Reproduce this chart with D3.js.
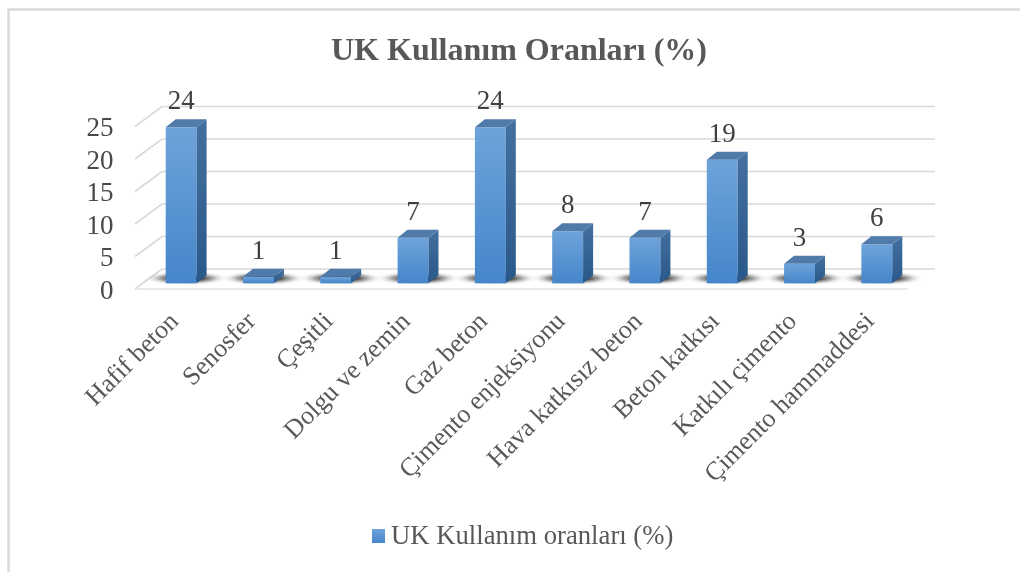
<!DOCTYPE html>
<html><head><meta charset="utf-8">
<script src="https://cdn.jsdelivr.net/npm/d3@7"></script>
<style>html,body{margin:0;padding:0;background:#fff}svg{display:block}text{font-family:"Liberation Serif",serif}</style>
</head><body><svg id="c" width="1020" height="572"></svg>
<script>
const categories = ["Hafif beton","Senosfer","Çeşitli","Dolgu ve zemin","Gaz beton","Çimento enjeksiyonu","Hava katkısız beton","Beton katkısı","Katkılı çimento","Çimento hammaddesi"];
const values = [24,1,1,7,24,8,7,19,3,6];
const yTicks = [0,5,10,15,20,25];
const titleText = "UK Kullanım Oranları (%)";
const legendText = "UK Kullanım oranları (%)";

const svg = d3.select("#c");
const W = 1020, H = 572;
const defs = svg.append("defs");
const grad = (id, a, b) => {
  const g = defs.append("linearGradient").attr("id", id).attr("x1",0).attr("y1",0).attr("x2",0).attr("y2",1);
  g.append("stop").attr("offset","0%").attr("stop-color",a);
  g.append("stop").attr("offset","100%").attr("stop-color",b);
};
grad("front","#6ea3da","#4586ca");
grad("side","#44709f","#28588a");
defs.append("filter").attr("id","soft").attr("x","-30%").attr("y","-30%").attr("width","160%").attr("height","160%")
  .append("feGaussianBlur").attr("stdDeviation",0.45);
defs.append("filter").attr("id","shadow").attr("x","-60%").attr("y","-300%").attr("width","220%").attr("height","700%")
  .append("feGaussianBlur").attr("stdDeviation","8 1.6");

// frame
svg.append("path").attr("d",`M8.5,${H} V9.5 H${W}`).attr("fill","none").attr("stroke","#d9d9d9").attr("stroke-width",2.4);

// scales
const y = d3.scaleLinear().domain([0,25]).range([289,126.5]);
const x = d3.scaleBand().domain(categories).range([142.5,915.5]).paddingInner(0.6).paddingOuter(0.3);
const depthX = 27, depthY = -20;      // wall/floor depth
const barDX = 10, barDY = -8;         // bar depth
const barBase = -5.7;                 // bars stand mid-floor

// gridlines + wall + floor
const grid = svg.append("g").attr("filter","url(#soft)").attr("fill","none").attr("stroke","#d9d9d9").attr("stroke-width",1.7);
yTicks.forEach(t=>{
  grid.append("path").attr("d",`M135,${y(t)} L${135+depthX},${y(t)+depthY} H935`);
});
grid.append("path").attr("d",`M135,${y(0)} H908`).attr("stroke","#e2e2e2");

// shadows
svg.append("g").selectAll("ellipse").data(values).join("ellipse")
  .attr("filter","url(#shadow)")
  .attr("cx",(d,i)=>x(categories[i])+x.bandwidth()/2+5)
  .attr("cy",y(0)+barBase-5)
  .attr("rx",x.bandwidth()*0.82).attr("ry",3.8)
  .attr("fill","#111").attr("opacity",0.95);

// bars
const bars = svg.append("g").attr("filter","url(#soft)").selectAll("g").data(values).join("g")
  .attr("transform",(d,i)=>`translate(${x(categories[i])},0)`);
const bw = x.bandwidth();
const b0 = y(0)+barBase;
const barTop = d=> y(d)+barBase;
bars.append("rect").attr("x",0).attr("y",d=>barTop(d)).attr("width",bw).attr("height",d=>b0-barTop(d)).attr("fill","url(#front)");
bars.append("path").attr("d",d=>`M${bw},${barTop(d)} l${barDX},${barDY} V${b0+barDY} L${bw},${b0} Z`).attr("fill","url(#side)");
bars.append("path").attr("d",d=>`M0,${barTop(d)} l${barDX},${barDY} h${bw} l${-barDX},${-barDY} Z`).attr("fill","#4f7aa9");

const txt = svg.append("g").attr("filter","url(#soft)");

// value labels
txt.append("g").selectAll("text").data(values).join("text")
  .attr("x",(d,i)=>x(categories[i])+bw/2)
  .attr("y",d=>barTop(d)-18)
  .attr("text-anchor","middle").attr("font-size",27).attr("fill","#404040").text(d=>d);

// y axis labels
const yAxis = d3.axisLeft(y).tickValues(yTicks).tickSize(0).tickPadding(0);
const ya = txt.append("g").attr("transform","translate(113.5,0)").call(yAxis);
ya.select(".domain").remove();
ya.selectAll("text").attr("font-size",27).attr("fill","#484848").attr("dy","0.34em").style("font-family",'"Liberation Serif",serif');

// x labels
txt.append("g").selectAll("text").data(categories).join("text")
  .attr("transform",(d)=>`translate(${x(d)+bw/2-8},${316}) rotate(-45)`)
  .attr("text-anchor","end").attr("dy","0.35em")
  .attr("font-size",26).attr("fill","#595959").text(d=>d);

// title
txt.append("text").attr("x",519).attr("y",60).attr("text-anchor","middle")
  .attr("font-size",32).attr("font-weight","bold").attr("fill","#595959").text(titleText);

// legend
svg.append("rect").attr("x",372).attr("y",529).attr("width",13).attr("height",14).attr("fill","url(#front)");
txt.append("text").attr("x",391).attr("y",544).attr("font-size",26.7).attr("fill","#595959").text(legendText);
</script></body></html>
